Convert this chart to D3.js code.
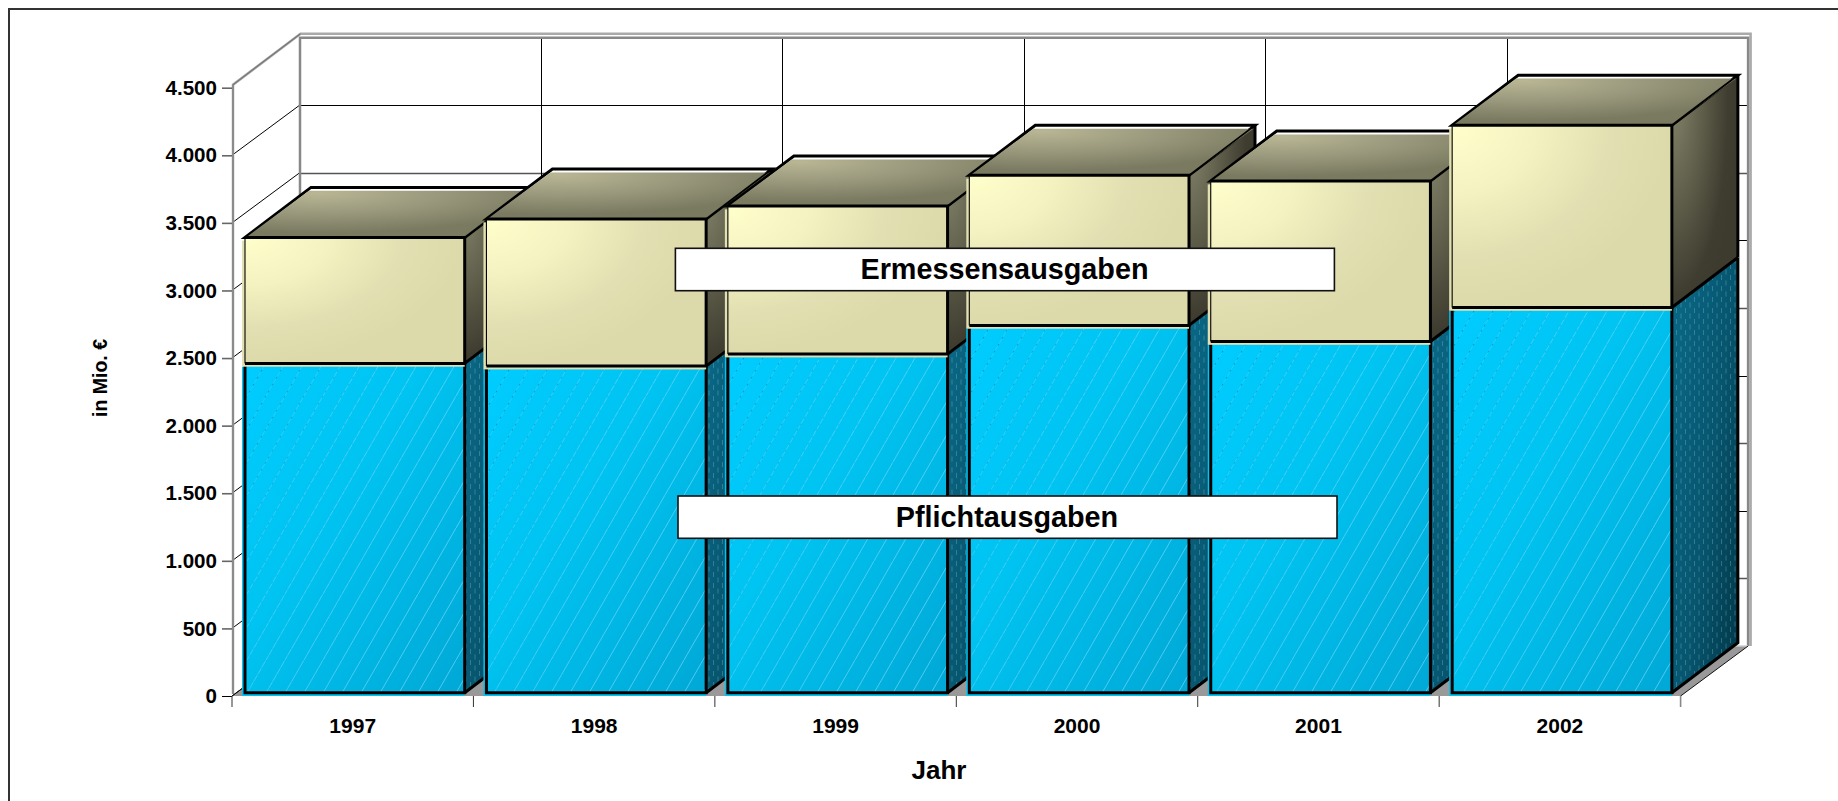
<!DOCTYPE html>
<html><head><meta charset="utf-8">
<script src="https://cdn.jsdelivr.net/npm/d3@7"></script>
<style>html,body{margin:0;padding:0;background:#fff}svg{display:block}text{font-family:"Liberation Sans",Arial,sans-serif;font-weight:bold;fill:#000}</style>
</head><body><script>
const years = ["1997","1998","1999","2000","2001","2002"];
const pflicht = [2436,2416,2505,2717,2598,2850];
const ermessen = [932,1088,1095,1110,1187,1348];
const yTicks = [0,500,1000,1500,2000,2500,3000,3500,4000,4500];
const W=1838,H=801;
const svg=d3.select("body").append("svg").attr("width",W).attr("height",H);
const x=d3.scaleBand().domain(years).range([232,1680.6]);
const y=d3.scaleLinear().domain([0,4500]).range([696,87.7]);
const wallDx=67.5,wallDy=50,barDx=66,barDy=50,off=3,offY=3.3,inset=10,barW=219.7;
const snap=v=>Math.round(v)+.5;
const defs=svg.append("defs");
function grad(type,id,attrs,stops){const g=defs.append(type).attr("id",id);
 Object.entries(attrs).forEach(([k,v])=>g.attr(k,v));
 stops.forEach(([o,c])=>g.append("stop").attr("offset",o).attr("stop-color",c));}
grad("radialGradient","tanFront",{cx:0,cy:0,r:1},[[0,"#ffffcc"],[.38,"#f4f2c0"],[.72,"#e2dfb2"],[1,"#dcd9aa"]]);
grad("radialGradient","tanTop",{cx:.25,cy:.05,r:.85},[[0,"#b8b693"],[.55,"#97967b"],[1,"#7a7a60"]]);
grad("radialGradient","tanSide",{cx:0,cy:.1,r:1},[[0,"#84836a"],[.5,"#5c5b48"],[.85,"#3e3d30"],[1,"#3c3b2e"]]);
grad("linearGradient","cyanFront",{x1:0,y1:0,x2:1,y2:1},[[0,"#00ccff"],[.4,"#00c4f2"],[1,"#00a8d6"]]);
grad("linearGradient","cyanSide",{x1:0,y1:0,x2:1,y2:.8},[[0,"#0a6a88"],[.6,"#07556e"],[1,"#033c4e"]]);
grad("linearGradient","fadeIn",{x1:0,y1:0,x2:1,y2:.5},[[0,"#333"],[.5,"#999"],[1,"#bbb"]]);
grad("linearGradient","fadeOut",{x1:0,y1:0,x2:1,y2:.8},[[0,"#ccc"],[.45,"#333"],[.7,"#000"]]);
[["mIn","fadeIn"],["mOut","fadeOut"]].forEach(([id,g])=>{
 defs.append("mask").attr("id",id).attr("maskContentUnits","objectBoundingBox")
  .append("rect").attr("width",1).attr("height",1).attr("fill",`url(#${g})`);});
const hatch=(id,col,w,dash)=>{const p=defs.append("pattern").attr("id",id).attr("patternUnits","userSpaceOnUse").attr("width",19).attr("height",33);
 const l=p.append("line").attr("x1",19).attr("y1",0).attr("x2",0).attr("y2",33).attr("stroke",col).attr("stroke-width",w);
 if(dash)l.attr("stroke-dasharray",dash);};
hatch("hatchLight","#9be6ff",.7,null);
hatch("hatchDark","#005f85",.8,"2 6");
const dots=defs.append("pattern").attr("id","sideDots").attr("patternUnits","userSpaceOnUse").attr("width",9).attr("height",11);
[[2,0],[6.5,5.5],[6.5,-5.5]].forEach(([a,b])=>dots.append("rect").attr("x",a).attr("y",b).attr("width",1).attr("height",5).attr("fill","#7fc4d8").attr("opacity",.33));

// frame
svg.append("path").attr("d",`M9,${H}V9H${W}`).attr("fill","none").attr("stroke","#333").attr("stroke-width",2);

const x0=x.range()[0],x1=x.range()[1],yb=y(0),yt=y(4500);
const wall=svg.append("g");
// floor
wall.append("path").attr("d",`M${x0},${yb}L${x1},${yb}L${x1+wallDx},${yb-wallDy}L${x0+wallDx},${yb-wallDy}Z`).attr("fill","#999").attr("stroke","none");
// grid: left wall, back wall
yTicks.forEach(t=>{
 wall.append("line").attr("x1",x0).attr("y1",y(t)).attr("x2",x0+wallDx).attr("y2",y(t)-wallDy).attr("stroke",t===4500?"none":"#000").attr("stroke-width",1);
 if(t>0&&t<4500)wall.append("line").attr("x1",x0+wallDx).attr("y1",snap(y(t)-wallDy)).attr("x2",x1+wallDx).attr("y2",snap(y(t)-wallDy)).attr("stroke",t%1000===0?"#000":"#555").attr("stroke-width",t%1000===0?1:1.5);
});
years.slice(1).forEach(c=>wall.append("line").attr("x1",snap(x(c)+wallDx)).attr("y1",yt-wallDy).attr("x2",snap(x(c)+wallDx)).attr("y2",yb-wallDy).attr("stroke","#000").attr("stroke-width",1));
// wall frames
wall.append("path").attr("d",`M${x0+1},${yb-2}V${yt-3}L${x0+wallDx+1},${yt-wallDy-4}H${x1+wallDx+2.5}V${yb-wallDy}`).attr("fill","none").attr("stroke","#aaa").attr("stroke-width",2.5);
wall.append("path").attr("d",`M${x0+1},${yb-2}V${yt-3}L${x0+wallDx+1},${yt-wallDy-4}`).attr("fill","none").attr("stroke","#777").attr("stroke-width",1.2);
wall.append("path").attr("d",`M${x0+wallDx+.5},${yb-wallDy}V${yt-wallDy}H${x1+wallDx}V${yb-wallDy}`).attr("fill","none").attr("stroke","#888").attr("stroke-width",2.5);
wall.append("line").attr("x1",x0+wallDx).attr("y1",yb-wallDy).attr("x2",x1+wallDx).attr("y2",yb-wallDy).attr("stroke","#ccc").attr("stroke-width",1.5);
wall.append("line").attr("x1",x0).attr("y1",yb).attr("x2",x0+wallDx).attr("y2",yb-wallDy).attr("stroke","#111").attr("stroke-width",1);
wall.append("line").attr("x1",x1).attr("y1",yb).attr("x2",x1+wallDx).attr("y2",yb-wallDy).attr("stroke","#111").attr("stroke-width",1);

const poly=(g,pts,attrs)=>{const p=g.append("polygon").attr("points",pts.map(a=>a.join(",")).join(" "));Object.entries(attrs).forEach(([k,v])=>p.attr(k,v));return p;};
const K="#000",SW=3;
years.forEach((c,i)=>{
 const g=svg.append("g");
 const L=x(c)+inset, bx=L+off, R=bx+barW;
 const yP=y(pflicht[i]), yTot=y(pflicht[i]+ermessen[i]);
 const b0=yb-offY,bP=yP-offY,bT=yTot-offY;
 // Pflichtausgaben
 g.append("rect").attr("x",L).attr("y",yP).attr("width",R-L).attr("height",yb-yP).attr("fill","#00c4f4");
 const sidePts=[[R,bP],[R+barDx,bP-barDy],[R+barDx,b0-barDy],[R,b0]];
 poly(g,sidePts,{fill:"url(#cyanSide)"});
 poly(g,sidePts,{fill:"url(#sideDots)"});
 g.append("path").attr("d",`M${R+barDx},${bP-barDy}V${b0-barDy}L${R},${b0}`).attr("fill","none").attr("stroke",K).attr("stroke-width",SW);
 const front=()=>g.append("rect").attr("x",bx).attr("y",bP).attr("width",barW).attr("height",b0-bP);
 front().attr("fill","url(#cyanFront)");
 front().attr("fill","url(#hatchLight)").attr("mask","url(#mIn)");
 front().attr("fill","url(#hatchDark)").attr("mask","url(#mOut)");
 g.append("path").attr("d",`M${bx},${bP}V${b0}H${R}V${bP}`).attr("fill","none").attr("stroke",K).attr("stroke-width",SW);
 // Ermessensausgaben
 g.append("rect").attr("x",L).attr("y",yTot).attr("width",R-L).attr("height",yP-yTot).attr("fill","#e2dfb2");
 const sideT=[[R,bT],[R+barDx,bT-barDy],[R+barDx,bP-barDy],[R,bP]];
 poly(g,sideT,{fill:"url(#tanSide)"});
 g.append("line").attr("x1",R+barDx).attr("y1",bT-barDy).attr("x2",R+barDx).attr("y2",bP-barDy).attr("stroke",K).attr("stroke-width",SW);
 g.append("line").attr("x1",R).attr("y1",bP).attr("x2",R+barDx).attr("y2",bP-barDy).attr("stroke",K).attr("stroke-width",SW);
 // top face
 poly(g,[[bx,bT],[R,bT],[R+barDx,bT-barDy],[bx+barDx,bT-barDy]],{fill:"#fff",stroke:K,"stroke-width":SW,"stroke-linejoin":"miter"});
 poly(g,[[bx+1,bT],[R,bT],[R+barDx-1.5,bT-barDy+3.4],[bx+barDx-2,bT-barDy+3.4]],{fill:"url(#tanTop)"});
 g.append("line").attr("x1",R).attr("y1",bT).attr("x2",R+barDx).attr("y2",bT-barDy).attr("stroke",K).attr("stroke-width",1.8);
 g.append("rect").attr("x",bx).attr("y",bT).attr("width",barW).attr("height",bP-bT).attr("fill","url(#tanFront)");
 g.append("path").attr("d",`M${bx},${bT}H${R}V${bP}H${bx}`).attr("fill","none").attr("stroke",K).attr("stroke-width",SW);
 g.append("line").attr("x1",bx).attr("y1",bT).attr("x2",bx).attr("y2",bP).attr("stroke",K).attr("stroke-width",1.1);
});

// axes
const fmt=d=>d3.format(",")(d).replace(/,/g,".");
const ya=svg.append("g").attr("transform",`translate(${x0},0)`).call(d3.axisLeft(y).tickValues(yTicks).tickFormat(fmt).tickSize(10).tickPadding(5));
ya.select(".domain").remove();
ya.selectAll("line").attr("stroke",d=>d===0?"#000":"#666").attr("stroke-width",d=>d===0?1:1.6);
ya.selectAll("text").attr("font-size",20.6).style("font-family",'"Liberation Sans",Arial,sans-serif').style("font-weight","bold").attr("dy","0.32em");
const xa=svg.append("g").attr("transform",`translate(0,${yb})`).call(d3.axisBottom(x).tickSize(0).tickPadding(0));
xa.select(".domain").remove();
xa.selectAll("text").attr("font-size",21).attr("y",37).attr("dy",0).style("font-family",'"Liberation Sans",Arial,sans-serif').style("font-weight","bold");
years.concat([null]).forEach((c,i)=>{const px=c?x(c):x1;
 svg.append("line").attr("x1",px).attr("x2",px).attr("y1",yb).attr("y2",yb+11).attr("stroke",i===6?"#888":"#333").attr("stroke-width",i===6?1.6:1);});

// titles
svg.append("text").attr("x",939).attr("y",779).attr("text-anchor","middle").attr("font-size",26).text("Jahr");
svg.append("text").attr("transform","translate(107,378) rotate(-90)").attr("text-anchor","middle").attr("font-size",19.5).text("in Mio. €");

// labels
[["Ermessensausgaben",675.4,248.3,659,42.4,1004.5],["Pflichtausgaben",678,496,659,42.3,1007]].forEach(([t,bxx,byy,w,h,cx])=>{
 svg.append("rect").attr("x",bxx).attr("y",byy).attr("width",w).attr("height",h).attr("fill","#fff").attr("stroke","#111").attr("stroke-width",1.6);
 svg.append("text").attr("x",cx).attr("y",byy+h/2+9.5).attr("text-anchor","middle").attr("font-size",28.8).text(t);
});
</script></body></html>
